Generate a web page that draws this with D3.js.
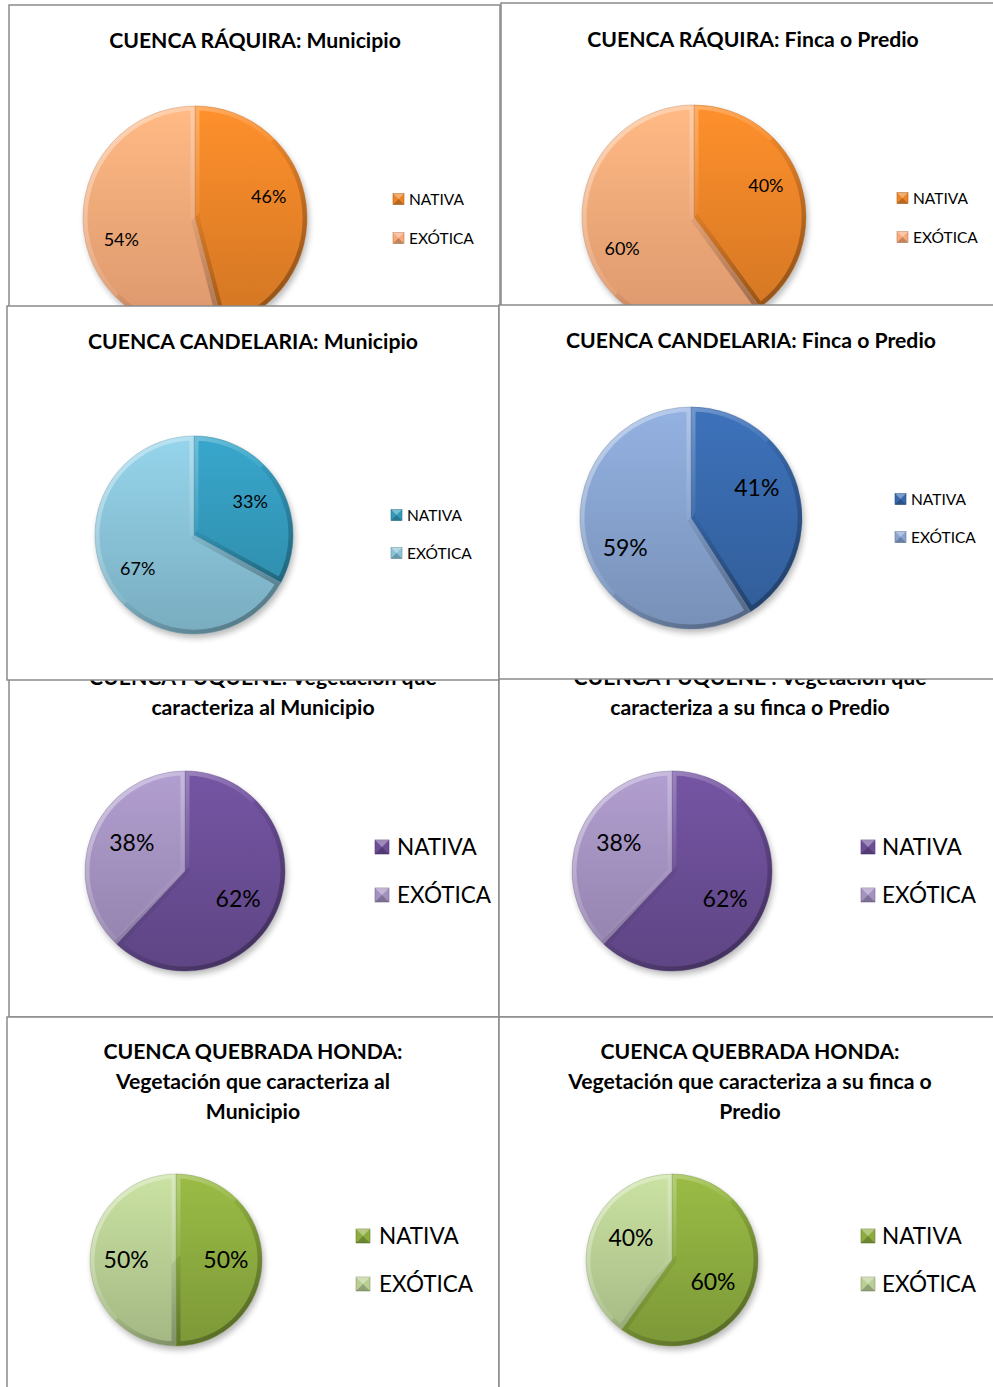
<!DOCTYPE html>
<html>
<head>
<meta charset="utf-8">
<script src="https://cdn.jsdelivr.net/npm/d3@7"></script>
<style>
  body { margin: 0; background: #fff; }
  text { font-family: Lato, "Open Sans", sans-serif; fill: #000; }
</style>
</head>
<body>
<script>
var width = 993, height = 1387;

// Data
var categories = ["NATIVA", "EXÓTICA"];
var titles = [
    ["CUENCA RÁQUIRA: Municipio"],
    ["CUENCA RÁQUIRA: Finca o Predio"],
    ["CUENCA CANDELARIA: Municipio"],
    ["CUENCA CANDELARIA: Finca o Predio"],
    ["CUENCA FUQUENE: Vegetación que", "caracteriza al Municipio"],
    ["CUENCA FUQUENE : Vegetación que", "caracteriza a su finca o Predio"],
    ["CUENCA QUEBRADA HONDA:", "Vegetación que caracteriza al", "Municipio"],
    ["CUENCA QUEBRADA HONDA:", "Vegetación que caracteriza a su finca o", "Predio"]
];
var nativa = [46, 40, 33, 41, 62, 62, 50, 60];
var exotica = [54, 60, 67, 59, 38, 38, 50, 40];

// Colours per chart: [NATIVA, EXÓTICA]
var palettes = [
    ["#ec8428", "#f8aa7a"],
    ["#ec8428", "#f8aa7a"],
    ["#3399bb", "#89c3d8"],
    ["#3868ab", "#87a3cf"],
    ["#6b4e96", "#a391bf"],
    ["#6b4e96", "#a391bf"],
    ["#8dac3f", "#b9cf94"],
    ["#8dac3f", "#b9cf94"]
];

// Panel layout (the original is a collage of overlapping Excel charts)
// k / rot: where Excel put the percentage labels (radius factor, angle shift in degrees)
var layout = [
    {box: [9, 5, 491, 330],   title: [255, 41],  pie: [195, 218, 112], k: 0.685, rot: -9, lfs: 18, leg: {x: 393, y: 199, dy: 39, sq: 11, fs: 15.5, gap: 5}},
    {box: [501, 3, 520, 330], title: [753, 40],  pie: [694, 217, 112], k: 0.70, rot: -5.5, lfs: 18, leg: {x: 897, y: 198, dy: 39, sq: 11, fs: 15.5, gap: 5}},
    {box: [7, 306, 492, 374], title: [253, 342], pie: [194, 535, 99],  k: 0.66, rot: 0, lfs: 18, leg: {x: 391, y: 515, dy: 38, sq: 11, fs: 15.5, gap: 5}},
    {box: [499, 305, 520, 374], title: [751, 341], pie: [691, 518, 111], k: 0.65, rot: -8, lfs: 23, leg: {x: 895, y: 499, dy: 38, sq: 11, fs: 15.5, gap: 5}},
    {box: [9, 630, 490, 387], title: [263, 678], pie: [185, 871, 100], k: 0.60, rot: 6, lfs: 23, leg: {x: 375, y: 847, dy: 48, sq: 14, fs: 22.5, gap: 8}},
    {box: [499, 630, 520, 387], title: [750, 678], pie: [672, 871, 100], k: 0.60, rot: 6, lfs: 23, leg: {x: 861, y: 847, dy: 48, sq: 14, fs: 22.5, gap: 7}},
    {box: [7, 1017, 492, 400], title: [253, 1052], pie: [176, 1260, 86], k: 0.58, rot: 0, lfs: 23, leg: {x: 356, y: 1236, dy: 48, sq: 14, fs: 22.5, gap: 9}},
    {box: [499, 1017, 520, 400], title: [750, 1052], pie: [672, 1260, 86], k: 0.54, rot: 10, lfs: 23, leg: {x: 861, y: 1236, dy: 48, sq: 14, fs: 22.5, gap: 7}}
];
// back to front
var drawOrder = [0, 1, 4, 5, 2, 3, 6, 7];

var svg = d3.select("body").append("svg")
    .attr("width", width)
    .attr("height", height);
var defs = svg.append("defs");

// soft shadow under the pies
var shadow = defs.append("filter").attr("id", "pieShadow")
    .attr("x", "-30%").attr("y", "-30%").attr("width", "160%").attr("height", "160%");
shadow.append("feGaussianBlur").attr("stdDeviation", 3);

var pie = d3.pie().sort(null).value(function(d) { return d.value; });

drawOrder.forEach(function(i) { drawPanel(i); });

function drawPanel(i) {
    var L = layout[i],
        cx = L.pie[0], cy = L.pie[1], r = L.pie[2];
    var g = svg.append("g");

    // panel frame
    g.append("rect")
        .attr("x", L.box[0]).attr("y", L.box[1])
        .attr("width", L.box[2]).attr("height", L.box[3])
        .attr("fill", "#fff")
        .attr("stroke", "#8a8a8a")
        .attr("stroke-width", 1.5);

    // title
    var t = g.append("text")
        .attr("text-anchor", "middle")
        .attr("font-size", 21.2)
        .attr("font-weight", "bold");
    titles[i].forEach(function(line, k) {
        t.append("tspan")
            .attr("x", L.title[0])
            .attr("y", L.title[1] + k * 30)
            .attr("dy", "0.35em")
            .text(line);
    });

    var data = categories.map(function(c, k) {
        return {cat: c, value: k === 0 ? nativa[i] : exotica[i], color: palettes[i][k]};
    });
    var arcs = pie(data);
    var arc = d3.arc().innerRadius(0).outerRadius(r);

    // label anchor: mid angle shifted by rot, at k * r from the centre
    function labelPos(d) {
        var a = (d.startAngle + d.endAngle) / 2 + L.rot * Math.PI / 180,
            dist = r * L.k;
        return [Math.sin(a) * dist, -Math.cos(a) * dist];
    }

    // gradients for this chart
    data.forEach(function(d, k) {
        var lg = defs.append("linearGradient")
            .attr("id", "fill" + i + "_" + k)
            .attr("gradientUnits", "userSpaceOnUse")
            .attr("x1", 0).attr("y1", -r).attr("x2", 0).attr("y2", r);
        lg.append("stop").attr("offset", 0).attr("stop-color", d3.color(d.color).brighter(0.25));
        lg.append("stop").attr("offset", 1).attr("stop-color", d3.color(d.color).darker(0.35));
    });
    var bev = defs.append("linearGradient")
        .attr("id", "bevel" + i)
        .attr("gradientUnits", "userSpaceOnUse")
        .attr("x1", -r).attr("y1", -r).attr("x2", r).attr("y2", r);
    bev.append("stop").attr("offset", 0).attr("stop-color", "#fff").attr("stop-opacity", 0.5);
    bev.append("stop").attr("offset", 0.5).attr("stop-color", "#fff").attr("stop-opacity", 0.05);
    bev.append("stop").attr("offset", 0.5).attr("stop-color", "#000").attr("stop-opacity", 0.05);
    bev.append("stop").attr("offset", 1).attr("stop-color", "#000").attr("stop-opacity", 0.4);

    var pg = g.append("g").attr("transform", "translate(" + cx + "," + cy + ")");

    pg.append("circle")
        .attr("cx", 2).attr("cy", 4).attr("r", r)
        .attr("fill", "#000").attr("opacity", 0.28)
        .attr("filter", "url(#pieShadow)");

    var slices = pg.selectAll(".slice")
        .data(arcs)
        .enter().append("g")
        .attr("class", "slice");

    slices.append("clipPath")
        .attr("id", function(d, k) { return "clip" + i + "_" + k; })
        .append("path").attr("d", arc);

    slices.append("path")
        .attr("d", arc)
        .attr("fill", function(d, k) { return "url(#fill" + i + "_" + k + ")"; });

    // bevel edge
    slices.append("path")
        .attr("d", arc)
        .attr("fill", "none")
        .attr("stroke", "url(#bevel" + i + ")")
        .attr("stroke-width", 9)
        .attr("stroke-linejoin", "round")
        .attr("clip-path", function(d, k) { return "url(#clip" + i + "_" + k + ")"; });

    slices.append("path")
        .attr("d", arc)
        .attr("fill", "none")
        .attr("stroke", function(d) { return d3.color(d.data.color).darker(0.6); })
        .attr("stroke-opacity", 0.5)
        .attr("stroke-width", 0.8);

    // percentage labels
    slices.append("text")
        .attr("transform", function(d) { return "translate(" + labelPos(d) + ")"; })
        .attr("text-anchor", "middle")
        .attr("dy", "0.35em")
        .attr("font-size", L.lfs)
        .text(function(d) { return d.data.value + "%"; });

    // legend
    var leg = g.selectAll(".legend")
        .data(data)
        .enter().append("g")
        .attr("transform", function(d, k) {
            return "translate(" + L.leg.x + "," + (L.leg.y + k * L.leg.dy) + ")";
        });
    var s = L.leg.sq, h = s / 2;
    leg.append("rect")
        .attr("x", 0).attr("y", -h)
        .attr("width", s).attr("height", s)
        .attr("fill", function(d) { return d.color; })
        .attr("stroke", function(d) { return d3.color(d.color).darker(0.8); })
        .attr("stroke-width", 0.6);
    leg.append("path")
        .attr("d", "M0," + (-h) + "L" + s + "," + (-h) + "L" + h + ",0Z")
        .attr("fill", "#fff").attr("opacity", 0.35);
    leg.append("path")
        .attr("d", "M0," + h + "L" + s + "," + h + "L" + h + ",0Z")
        .attr("fill", "#000").attr("opacity", 0.22);
    leg.append("text")
        .attr("x", s + L.leg.gap)
        .attr("dy", "0.36em")
        .attr("font-size", L.leg.fs)
        .text(function(d) { return d.cat; });
}
</script>
</body>
</html>
